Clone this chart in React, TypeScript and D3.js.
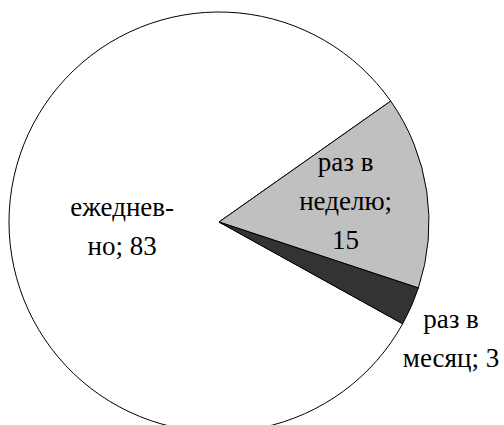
import React, { useEffect, useRef } from 'react';
import * as d3 from 'd3';

// frequency categories and their counts
const categories = ['ежедневно', 'раз в неделю', 'раз в месяц'];
const values = [83, 15, 3];
// label text as it is wrapped on the chart
const labelLines = [
  ['ежеднев-', 'но; 83'],
  ['раз в', 'неделю;', '15'],
  ['раз в', 'месяц; 3'],
];

const colors = ['#ffffff', '#c0c0c0', '#333333'];
// label placement: distance from centre along the slice, then a small nudge
const labelRadius = [97, 128, 262];
const labelNudge = [[0, -1], [0, -2], [-8, 11]];

const width = 504;
const height = 425;

const App: React.FC = () => {
  const svgRef = useRef<SVGSVGElement>(null);

  useEffect(() => {
    if (!svgRef.current) return;
    const svg = d3.select(svgRef.current);
    svg.selectAll('*').remove();

    const cx = 219;
    const cy = 222;
    const radius = 210;
    const fontSize = 27;
    const lineH = 39;

    const start = (119 * Math.PI) / 180;
    const pie = d3.pie<number>()
      .sort(null)
      .startAngle(start)
      .endAngle(start + 2 * Math.PI);
    const arcs = pie(values);

    const arc = d3.arc<d3.PieArcDatum<number>>()
      .innerRadius(0)
      .outerRadius(radius);

    const g = svg.append('g').attr('transform', `translate(${cx},${cy})`);

    g.selectAll('path')
      .data(arcs)
      .enter()
      .append('path')
      .attr('d', arc as any)
      .attr('fill', (_d, i) => colors[i])
      .attr('stroke', '#000')
      .attr('stroke-width', 1)
      .attr('stroke-linejoin', 'round');

    arcs.forEach((a, i) => {
      const la = d3.arc<d3.PieArcDatum<number>>()
        .innerRadius(labelRadius[i])
        .outerRadius(labelRadius[i]);
      const [px, py] = la.centroid(a);
      const x = px + labelNudge[i][0];
      const y = py + labelNudge[i][1];
      const lines = labelLines[i];
      const t = g.append('text')
        .attr('text-anchor', 'middle')
        .attr('font-family', 'Liberation Serif, Times New Roman, serif')
        .attr('font-size', fontSize)
        .attr('fill', '#000')
        .attr('data-category', categories[i]);
      lines.forEach((line, k) => {
        t.append('tspan')
          .attr('x', x)
          .attr('y', y + (k - (lines.length - 1) / 2) * lineH + fontSize * 0.33)
          .text(line);
      });
    });
  }, []);

  return (
    <svg
      ref={svgRef}
      width={width}
      height={height}
      style={{ position: 'absolute', left: 0, top: 0, background: '#fff' }}
    />
  );
};

export default App;
